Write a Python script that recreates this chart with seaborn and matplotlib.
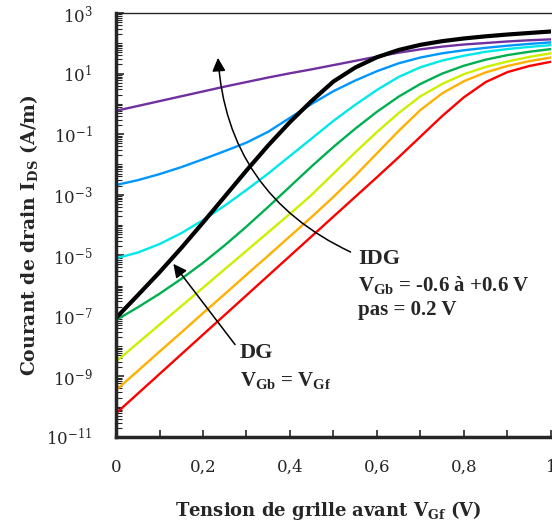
import numpy as np
import pandas as pd
import matplotlib
matplotlib.use("Agg")
import matplotlib.pyplot as plt
import seaborn as sns
from matplotlib.ticker import FixedLocator, LogLocator, NullFormatter

# =========================================
#  Data (log10 of I_DS in A/m)
# =========================================
vgf = [0.00, 0.05, 0.10, 0.15, 0.20, 0.25, 0.30, 0.35, 0.40, 0.45, 0.50,
       0.55, 0.60, 0.65, 0.70, 0.75, 0.80, 0.85, 0.90, 0.95, 1.00]

# IDG, back gate from -0.6 V to +0.6 V
log_ids_m06 = [-10.22, -9.57, -8.92, -8.27, -7.62, -6.97, -6.32, -5.67, -5.02, -4.37, -3.72,
               -3.07, -2.42, -1.76, -1.08, -0.40, 0.22, 0.72, 1.05, 1.25, 1.39]
log_ids_m04 = [-9.45, -8.82, -8.18, -7.55, -6.91, -6.28, -5.64, -5.01, -4.37, -3.73, -3.07,
               -2.37, -1.63, -0.89, -0.20, 0.35, 0.75, 1.04, 1.25, 1.41, 1.53]
log_ids_m02 = [-8.51, -7.90, -7.29, -6.68, -6.07, -5.46, -4.85, -4.24, -3.63, -3.00, -2.30,
               -1.60, -0.93, -0.30, 0.25, 0.66, 0.98, 1.22, 1.40, 1.55, 1.67]
log_ids_0 = [-7.14, -6.72, -6.27, -5.78, -5.25, -4.67, -4.05, -3.40, -2.73, -2.06, -1.42,
             -0.82, -0.26, 0.24, 0.66, 1.00, 1.26, 1.46, 1.61, 1.72, 1.81]
log_ids_p02 = [-5.10, -4.91, -4.63, -4.27, -3.84, -3.36, -2.84, -2.30, -1.72, -1.14, -0.56,
               -0.03, 0.46, 0.89, 1.21, 1.43, 1.59, 1.72, 1.81, 1.88, 1.94]
log_ids_p04 = [-2.68, -2.52, -2.32, -2.09, -1.83, -1.56, -1.28, -0.92, -0.46, 0.00, 0.42,
               0.77, 1.08, 1.34, 1.53, 1.67, 1.77, 1.85, 1.92, 1.98, 2.03]
log_ids_p06 = [-0.23, -0.07, 0.09, 0.25, 0.41, 0.57, 0.72, 0.87, 1.01, 1.14, 1.28,
               1.42, 1.56, 1.69, 1.80, 1.89, 1.96, 2.01, 2.06, 2.10, 2.13]

# DG, V_Gb = V_Gf
log_ids_dg = [-7.07, -6.32, -5.56, -4.76, -3.92, -3.06, -2.20, -1.37, -0.60, 0.10, 0.74,
              1.20, 1.54, 1.78, 1.95, 2.07, 2.16, 2.23, 2.29, 2.34, 2.39]

vgb_labels = ["-0.6", "-0.4", "-0.2", "0", "+0.2", "+0.4", "+0.6"]
curve_colors = ["#ff0000", "#ffb000", "#ccf000", "#00b050", "#00e8e8", "#0096ff", "#7030a0"]

y_exponents = [-11, -9, -7, -5, -3, -1, 1, 3]
x_ticks = [0, 0.2, 0.4, 0.6, 0.8, 1.0]
x_ticklabels = ["0", "0,2", "0,4", "0,6", "0,8", "1"]

# =========================================
#  Build long-form table
# =========================================
frames = []
for lab, vals in zip(vgb_labels, [log_ids_m06, log_ids_m04, log_ids_m02, log_ids_0,
                                  log_ids_p02, log_ids_p04, log_ids_p06]):
    frames.append(pd.DataFrame({"vgf": vgf, "ids": 10.0 ** np.array(vals), "vgb": lab}))
df = pd.concat(frames, ignore_index=True)
df_dg = pd.DataFrame({"vgf": vgf, "ids": 10.0 ** np.array(log_ids_dg)})

# =========================================
#  Plot
# =========================================
sns.set_style("ticks")
plt.rcParams["font.family"] = ["DejaVu Serif"]
plt.rcParams["mathtext.fontset"] = "dejavuserif"
# custom math font, used only by the annotation texts
plt.rcParams["mathtext.rm"] = "Liberation Serif"
plt.rcParams["mathtext.bf"] = "Liberation Serif:bold"
plt.rcParams["mathtext.it"] = "Liberation Serif:italic"

fig = plt.figure(figsize=(5.52, 5.22), dpi=100)
ax = fig.add_axes([116 / 552, 85 / 522, 435 / 552, 424 / 522])

sns.lineplot(data=df, x="vgf", y="ids", hue="vgb", hue_order=vgb_labels,
             palette=curve_colors, lw=1.7, legend=False, estimator=None, ax=ax)
sns.lineplot(data=df_dg, x="vgf", y="ids", color="black", lw=3.0, estimator=None, ax=ax)

ax.set_yscale("log")
ax.set_xlim(0, 1)
ax.set_ylim(1e-11, 1e3)

ax.yaxis.set_major_locator(FixedLocator([10.0 ** e for e in y_exponents]))
ax.set_yticklabels([f"$10^{{{e}}}$" for e in y_exponents])
ax.yaxis.set_minor_locator(LogLocator(base=10, subs=np.arange(1, 10), numticks=100))
ax.yaxis.set_minor_formatter(NullFormatter())
ax.set_xticks(x_ticks)
ax.set_xticklabels(x_ticklabels)
ax.set_xticks([0.1, 0.3, 0.5, 0.7, 0.9], minor=True)

ax.tick_params(axis="y", which="major", direction="in", length=6, width=1.2,
               labelsize=12, pad=17)
ax.tick_params(axis="y", which="minor", direction="in", length=4, width=0.8)
ax.tick_params(axis="x", which="both", direction="in", length=5, width=1.2,
               labelsize=12, pad=16)

ax.spines["left"].set_linewidth(2.5)
ax.spines["bottom"].set_linewidth(2.5)
ax.spines["top"].set_linewidth(1.0)
ax.spines["right"].set_visible(False)
ax.set_xlabel("")
ax.set_ylabel("")

fig.text(328 / 552, 1 - 510 / 522, r"Tension de grille avant $\mathbf{V_{Gf}}$ (V)",
         fontsize=13, fontweight="bold", ha="center", va="center")
fig.text(29 / 552, 1 - 235 / 522, r"Courant de drain $\mathbf{I_{DS}}$ (A/m)",
         fontsize=13.5, fontweight="bold", ha="center", va="center", rotation=90)

note = dict(family="Liberation Serif", fontweight="bold", ha="left", va="baseline",
            math_fontfamily="custom")

# IDG annotation
ax.annotate("", xy=(0.234, 10 ** 1.61), xytext=(0.545, 10 ** -4.93),
            arrowprops=dict(arrowstyle="-|>", connectionstyle="arc3,rad=-0.3",
                            color="black", lw=1.1, mutation_scale=20))
ax.text(0.556, 10 ** -5.30, "IDG", fontsize=16, **note)
ax.text(0.556, 10 ** -6.17, r"$\mathbf{V_{Gb}}$ = -0.6 à +0.6 V", fontsize=15, **note)
ax.text(0.556, 10 ** -6.97, "pas = 0.2 V", fontsize=15, **note)

# DG annotation
ax.annotate("", xy=(0.128, 10 ** -5.21), xytext=(0.2775, 10 ** -8.02),
            arrowprops=dict(arrowstyle="-|>", color="black", lw=1.1, mutation_scale=20))
ax.text(0.285, 10 ** -8.40, "DG", fontsize=16, **note)
ax.text(0.285, 10 ** -9.31, r"$\mathbf{V_{Gb}}$ = $\mathbf{V_{Gf}}$", fontsize=15, **note)

fig.savefig("out.png", dpi=100)
plt.close(fig)
